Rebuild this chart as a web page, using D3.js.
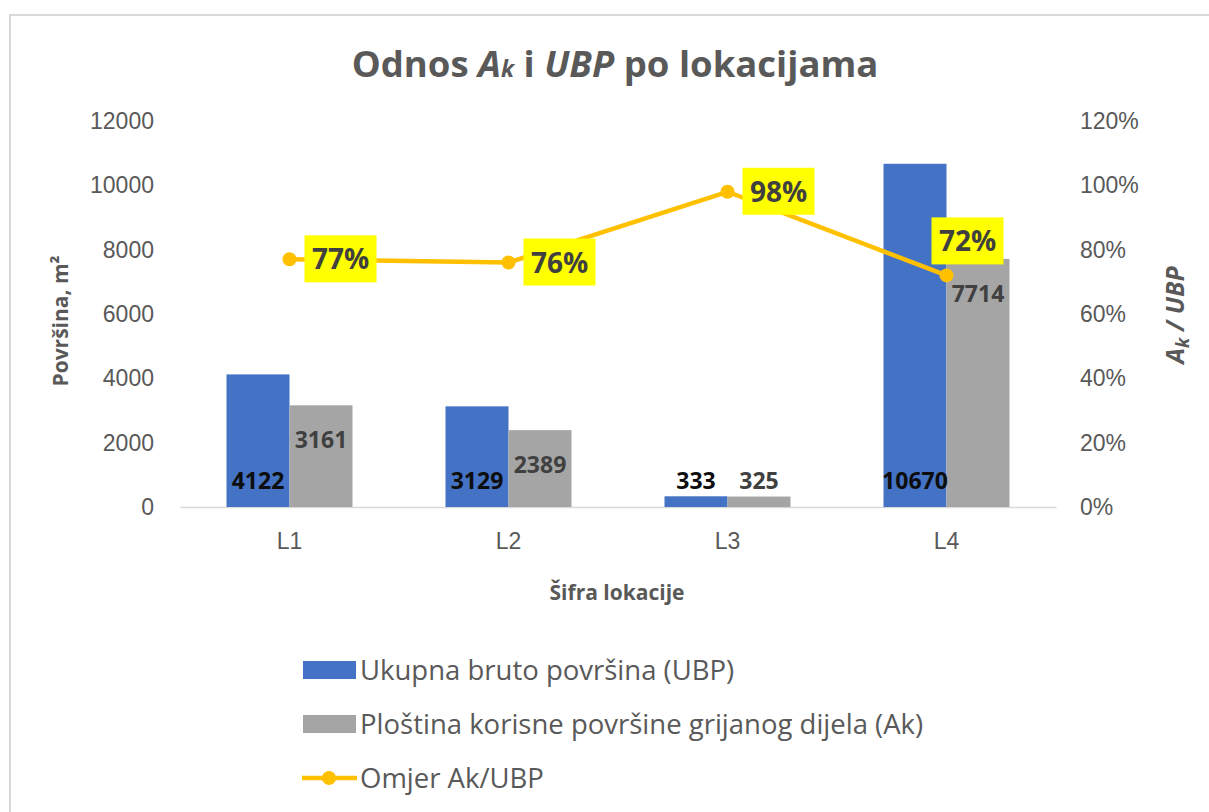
<!DOCTYPE html>
<html>
<head>
<meta charset="utf-8">
<script src="https://cdn.jsdelivr.net/npm/d3@7"></script>
<style>
  body { margin: 0; background: #fff; }
  svg { font-family: "Open Sans", "Noto Sans", sans-serif; }
</style>
</head>
<body>
<svg id="chart" width="1209" height="812"></svg>
<script>
// data
var locations = ["L1", "L2", "L3", "L4"];
var ubp = [4122, 3129, 333, 10670];
var ak = [3161, 2389, 325, 7714];
var ratio = [0.77, 0.76, 0.98, 0.72];
var leftTicks = [0, 2000, 4000, 6000, 8000, 10000, 12000];
var rightTicks = [0, 0.2, 0.4, 0.6, 0.8, 1.0, 1.2];
var legendNames = ["Ukupna bruto površina (UBP)", "Ploština korisne površine grijanog dijela (Ak)", "Omjer Ak/UBP"];

var blue = "#4472C4", grey = "#A5A5A5", gold = "#FFC000", txt = "#595959";

var svg = d3.select("#chart");

// chart frame
svg.append("rect")
  .attr("x", 10).attr("y", 15)
  .attr("width", 1260).attr("height", 900)
  .attr("fill", "none").attr("stroke", "#D9D9D9").attr("stroke-width", 2);

var plotLeft = 180, plotRight = 1056, plotTop = 121, plotBottom = 507;

var x = d3.scaleBand().domain(locations).range([plotLeft, plotRight]);
var y = d3.scaleLinear().domain([0, 12000]).range([plotBottom, plotTop]);
var y2 = d3.scaleLinear().domain([0, 1.2]).range([plotBottom, plotTop]);
var barW = 63;

// title
var title = svg.append("text")
  .attr("x", 615).attr("y", 77)
  .attr("text-anchor", "middle")
  .attr("font-size", 36.5).attr("font-weight", "bold").attr("fill", txt);
title.append("tspan").text("Odnos ");
title.append("tspan").attr("font-style", "italic").text("A");
title.append("tspan").attr("font-style", "italic").attr("font-size", 23).text("k");
title.append("tspan").text(" i ");
title.append("tspan").attr("font-style", "italic").text("UBP");
title.append("tspan").text(" po lokacijama");

// axes
var yAxis = d3.axisLeft(y).tickValues(leftTicks).tickSize(0).tickPadding(26)
  .tickFormat(d3.format("d"));
var gy = svg.append("g").attr("transform", "translate(" + plotLeft + ",0)").call(yAxis);
gy.select(".domain").remove();
gy.selectAll("text").attr("font-size", 23).attr("fill", txt).attr("font-family", null);

var y2Axis = d3.axisRight(y2).tickValues(rightTicks).tickSize(0).tickPadding(24)
  .tickFormat(d3.format(".0%"));
var gy2 = svg.append("g").attr("transform", "translate(" + plotRight + ",0)").call(y2Axis);
gy2.select(".domain").remove();
gy2.selectAll("text").attr("font-size", 23).attr("fill", txt).attr("font-family", null);

var xAxis = d3.axisBottom(x).tickSize(0).tickPadding(26);
var gx = svg.append("g").attr("transform", "translate(0," + plotBottom + ")").call(xAxis);
gx.select(".domain").attr("stroke", "#D9D9D9").attr("stroke-width", 1.5);
gx.selectAll("text").attr("font-size", 23).attr("fill", txt).attr("font-family", null);

// axis titles
svg.append("text")
  .attr("transform", "translate(68,321) rotate(-90)")
  .attr("text-anchor", "middle")
  .attr("font-size", 21).attr("font-weight", "bold").attr("fill", txt)
  .text("Površina, m²");

var t2 = svg.append("text")
  .attr("transform", "translate(1184,315) rotate(-90)")
  .attr("text-anchor", "middle")
  .attr("font-size", 25).attr("font-weight", "bold").attr("font-style", "italic").attr("fill", txt);
t2.append("tspan").text("A");
t2.append("tspan").attr("font-size", 18).attr("dy", 5).text("k");
t2.append("tspan").attr("dy", -5).text(" / UBP");

svg.append("text")
  .attr("x", 617).attr("y", 600)
  .attr("text-anchor", "middle")
  .attr("font-size", 21).attr("font-weight", "bold").attr("fill", txt)
  .text("Šifra lokacije");

// bars
var bars = svg.append("g");
bars.selectAll(".ubp").data(ubp).enter().append("rect")
  .attr("x", function(d, i) { return x(locations[i]) + x.bandwidth() / 2 - barW; })
  .attr("y", function(d) { return y(d); })
  .attr("width", barW)
  .attr("height", function(d) { return plotBottom - y(d); })
  .attr("fill", blue);

bars.selectAll(".ak").data(ak).enter().append("rect")
  .attr("x", function(d, i) { return x(locations[i]) + x.bandwidth() / 2; })
  .attr("y", function(d) { return y(d); })
  .attr("width", barW)
  .attr("height", function(d) { return plotBottom - y(d); })
  .attr("fill", grey);

// bar labels
svg.append("g").selectAll("text").data(ubp).enter().append("text")
  .attr("x", function(d, i) { return x(locations[i]) + x.bandwidth() / 2 - barW / 2; })
  .attr("y", 489)
  .attr("text-anchor", "middle")
  .attr("font-size", 23).attr("font-weight", "bold").attr("fill", "#0D0D0D")
  .text(function(d) { return d; });

svg.append("g").selectAll("text").data(ak).enter().append("text")
  .attr("x", function(d, i) { return x(locations[i]) + x.bandwidth() / 2 + barW / 2; })
  .attr("y", function(d) { return Math.min(y(d) + 43, 489); })
  .attr("text-anchor", "middle")
  .attr("font-size", 23).attr("font-weight", "bold").attr("fill", "#404040")
  .text(function(d) { return d; });

// ratio line
var cx = function(d, i) { return x(locations[i]) + x.bandwidth() / 2; };
var line = d3.line().x(cx).y(function(d) { return y2(d); });
svg.append("path").datum(ratio)
  .attr("d", line)
  .attr("fill", "none").attr("stroke", gold).attr("stroke-width", 4.5)
  .attr("stroke-linejoin", "round");

svg.append("g").selectAll("circle").data(ratio).enter().append("circle")
  .attr("cx", cx).attr("cy", function(d) { return y2(d); })
  .attr("r", 7).attr("fill", gold);

// percentage labels in yellow boxes
var lab = svg.append("g").selectAll("g").data(ratio).enter().append("g")
  .attr("transform", function(d, i) {
    var px = cx(d, i), py = y2(d);
    if (i === ratio.length - 1) return "translate(" + (px - 15) + "," + (py - 58) + ")";
    return "translate(" + (px + 15) + "," + (py - 24) + ")";
  });
lab.append("rect").attr("width", 72).attr("height", 47).attr("fill", "#FFFF00");
lab.append("text")
  .attr("x", 36).attr("y", 34)
  .attr("text-anchor", "middle")
  .attr("font-size", 28).attr("font-weight", "bold").attr("fill", "#404040")
  .text(function(d) { return Math.round(d * 100) + "%"; });

// legend
var legend = svg.append("g").attr("transform", "translate(303,670)");
var item = legend.selectAll("g").data(legendNames).enter().append("g")
  .attr("transform", function(d, i) { return "translate(0," + [0, 54, 108][i] + ")"; });

item.filter(function(d, i) { return i < 2; }).append("rect")
  .attr("y", -9).attr("width", 53).attr("height", 18)
  .attr("fill", function(d, i) { return [blue, grey][i]; });

var li = item.filter(function(d, i) { return i === 2; });
li.append("line").attr("x1", -1).attr("x2", 54).attr("y1", 0).attr("y2", 0)
  .attr("stroke", gold).attr("stroke-width", 4.5);
li.append("circle").attr("cx", 26).attr("r", 7).attr("fill", gold);

item.append("text")
  .attr("x", 57).attr("y", 9.5)
  .attr("font-size", 27.5).attr("fill", txt)
  .text(function(d) { return d; });
</script>
</body>
</html>
